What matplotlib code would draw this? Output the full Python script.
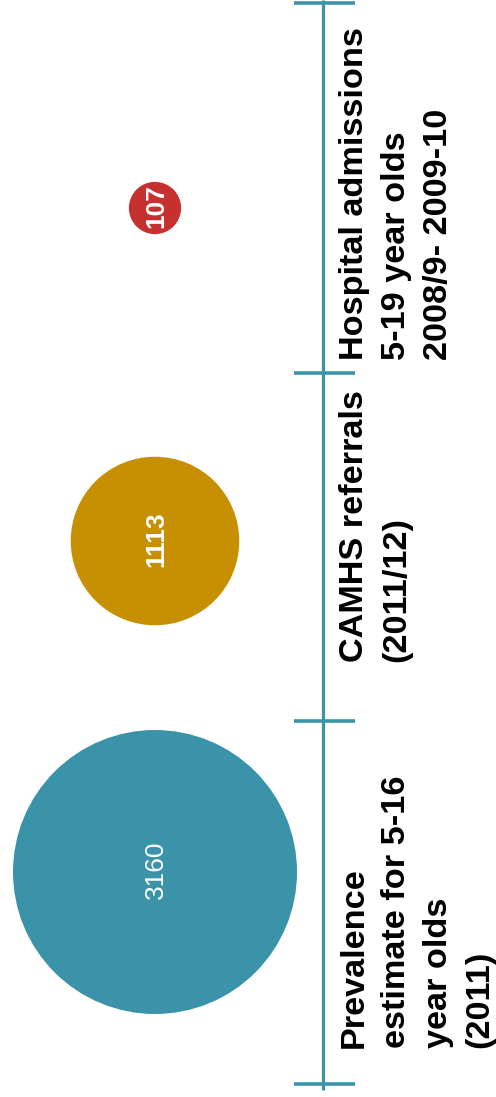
import numpy as np
import matplotlib
matplotlib.use("Agg")
import matplotlib.pyplot as plt
from matplotlib.patches import Circle

# ---- data ----
categories = [
    "Prevalence\nestimate for 5-16\nyear olds\n(2011)",
    "CAMHS referrals\n(2011/12)",
    "Hospital admissions\n5-19 year olds\n2008/9- 2009-10",
]
values = [3160, 1113, 107]
value_labels = ["3160", "1113", "107"]
value_weights = ["normal", "bold", "bold"]
colors = ["#3b93a9", "#c78f02", "#c6302e"]

# ---- layout (pixel-like data coordinates, y downward) ----
W, H = 496, 1097
fig = plt.figure(figsize=(W / 100, H / 100), dpi=100)
ax = fig.add_axes([0, 0, 1, 1])
ax.set_xlim(0, W)
ax.set_ylim(H, 0)
ax.set_aspect("equal")
ax.axis("off")

bubble_x = 155
bubble_y = [872, 541, 208]
r_max = 142.0
label_bottom = [1048, 662, 360]
tick_pos = [1084, 721, 373, 3]
axis_x = 323
axis_color = "#3b93a9"

vmax = max(values)
for i, v in enumerate(values):
    r = r_max * np.sqrt(v / vmax)
    ax.add_patch(Circle((bubble_x, bubble_y[i]), r, color=colors[i], lw=0))
    ax.text(bubble_x + 1, bubble_y[i] - 2, value_labels[i], rotation=90,
            ha="center", va="center", color="white",
            fontsize=19, fontweight=value_weights[i],
            family="Liberation Sans")

# axis line and ticks
ax.plot([axis_x, axis_x], [0, 1090], color=axis_color, lw=2.3,
        solid_capstyle="butt")
for t in tick_pos:
    ax.plot([294, 355], [t, t], color=axis_color, lw=2.6,
            solid_capstyle="butt")

for i, lab in enumerate(categories):
    ax.text(339, label_bottom[i], lab, rotation=90, ha="left", va="bottom",
            multialignment="left", fontsize=24.7, fontweight="bold",
            family="Liberation Sans", color="black", linespacing=1.45)

fig.savefig("out.png", dpi=100, facecolor="white")
